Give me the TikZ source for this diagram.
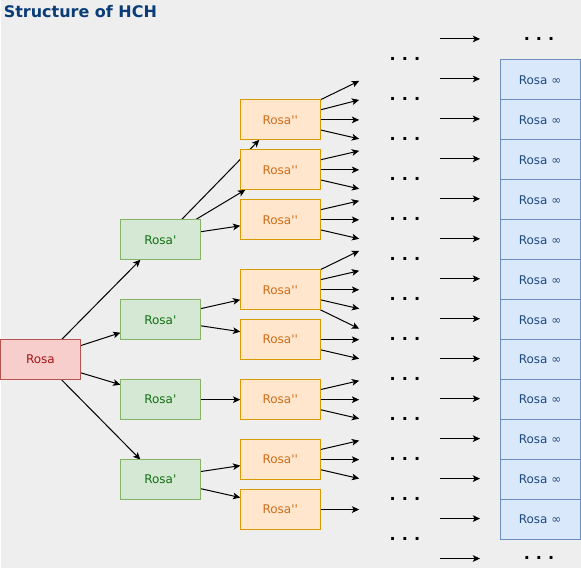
\documentclass[tikz,border=0pt]{standalone}
\usepackage{fontspec}
\setmainfont{DejaVu Sans}
\usetikzlibrary{calc,arrows.meta}

\definecolor{canvas}{HTML}{EEEEEE}
\definecolor{titleblue}{HTML}{0A3C78}
\definecolor{rosafill}{HTML}{F8CECC}
\definecolor{rosaline}{HTML}{B85450}
\definecolor{rosatext}{HTML}{A31515}
\definecolor{primefill}{HTML}{D5E8D4}
\definecolor{primeline}{HTML}{82B366}
\definecolor{primetext}{HTML}{107010}
\definecolor{dprimefill}{HTML}{FFE6CC}
\definecolor{dprimeline}{HTML}{D79B00}
\definecolor{dprimetext}{HTML}{CF6E1A}
\definecolor{inffill}{HTML}{DAE8FC}
\definecolor{infline}{HTML}{6C8EBF}
\definecolor{inftext}{HTML}{1F4A7D}

\pgfdeclarelayer{bg}
\pgfdeclarelayer{wires}
\pgfsetlayers{bg,wires,main}

\tikzset{
	box/.style={draw, line width=0.75pt, minimum width=60pt, minimum height=30pt, inner sep=0pt, outer sep=0pt, font=\fontsize{9}{11}\selectfont},
	rosabox/.style={box, fill=rosafill, draw=rosaline, text=rosatext},
	primebox/.style={box, fill=primefill, draw=primeline, text=primetext},
	dprimebox/.style={box, fill=dprimefill, draw=dprimeline, text=dprimetext},
	infbox/.style={box, fill=inffill, draw=infline, text=inftext},
	dotz/.style={inner sep=0pt, font=\bfseries\fontsize{12}{14}\selectfont},
	arr/.style={line width=0.75pt, -{Stealth[length=5.5pt,width=5pt,inset=1.4pt]}}
}

\newcommand{\pr}{\textquotesingle}
\newcommand{\dotrow}{.\kern4.6pt.\kern4.6pt.}
\newcommand{\fan}[3]{\draw[arr] ($(#1.north east)+(0,#2)$) -- ++(39,#3);}

\begin{document}
\begin{tikzpicture}[x=0.75pt, y=-0.75pt]
		\begin{pgfonlayer}{bg}
			\fill[canvas] (0,0) rectangle (581,568);
		\end{pgfonlayer}
		\node[anchor=base west, inner sep=0pt, text=titleblue, font=\bfseries\fontsize{12}{14}\selectfont](title) at (3,18){Structure of HCH};
		% levels
		\node[rosabox](rosa) at (40,360){Rosa};
		\node[primebox](p1) at (160,240){Rosa\pr};
		\node[primebox](p2) at (160,320){Rosa\pr};
		\node[primebox](p3) at (160,400){Rosa\pr};
		\node[primebox](p4) at (160,480){Rosa\pr};
		\node[dprimebox](pp1) at (280,120){Rosa\pr\pr};
		\node[dprimebox](pp2) at (280,170){Rosa\pr\pr};
		\node[dprimebox](pp3) at (280,220){Rosa\pr\pr};
		\node[dprimebox](pp4) at (280,290){Rosa\pr\pr};
		\node[dprimebox](pp5) at (280,340){Rosa\pr\pr};
		\node[dprimebox](pp6) at (280,400){Rosa\pr\pr};
		\node[dprimebox](pp7) at (280,460){Rosa\pr\pr};
		\node[dprimebox](pp8) at (280,510){Rosa\pr\pr};
		\foreach \k in {0,...,11}
			\node[infbox](inf\k) at (540,80+40*\k){Rosa ∞};
		% dots
		\foreach \k in {0,...,12}
			\node[dotz](d\k) at (404.7,59.5+40*\k){\dotrow};
		\node[dotz](dtop) at (539,39){\dotrow};
		\node[dotz](dbot) at (539,558.5){\dotrow};
		\foreach \k in {0,...,13}{
			\coordinate (s\k) at (440,39+40*\k);
			\draw[arr] (s\k) -- ++(40,0);
		}
		\begin{pgfonlayer}{wires}
			\draw[arr] ($(rosa.north west)+(61,0)$) -- ($(p1.south west)+(20,0)$);
			\draw[arr] ($(rosa.north east)+(0,6)$) -- ($(p2.north west)+(0,33)$);
			\draw[arr] ($(rosa.north east)+(0,33)$) -- ($(p3.north west)+(0,5)$);
			\draw[arr] ($(rosa.south west)+(61,0)$) -- ($(p4.north west)+(20,0)$);
			\draw[arr] ($(p1.north west)+(61,0)$) -- ($(pp1.south west)+(19,0)$);
			\draw[arr] ($(p1.north west)+(75,0)$) -- ($(pp2.south west)+(5,0)$);
			\draw[arr] ($(p1.north east)+(0,12)$) -- ($(pp3.north west)+(0,26)$);
			\draw[arr] ($(p2.north east)+(0,9)$) -- ($(pp4.north west)+(0,30)$);
			\draw[arr] ($(p2.north east)+(0,26)$) -- ($(pp5.north west)+(0,12)$);
			\draw[arr] (p3.east) -- (pp6.west);
			\draw[arr] ($(p4.north east)+(0,12)$) -- ($(pp7.north west)+(0,26)$);
			\draw[arr] ($(p4.north east)+(0,29)$) -- ($(pp8.north west)+(0,8)$);
			% fans to the next level
			\foreach \n/\o/\d in {pp1/0/-19, pp1/10/-10, pp1/20/0, pp1/30/9,
				pp2/10/-9, pp2/20/0, pp2/30/9, pp3/10/-9, pp3/20/0, pp3/30/9,
				pp4/0/-19, pp4/10/-9, pp4/20/0, pp4/30/9, pp4/40/19,
				pp5/20/0, pp5/30/9, pp6/10/-9, pp6/20/0, pp6/30/9,
				pp7/10/-9, pp7/20/0, pp7/30/9, pp8/20/0}
				{\fan{\n}{\o}{\d}}
		\end{pgfonlayer}
\end{tikzpicture}
\end{document}
